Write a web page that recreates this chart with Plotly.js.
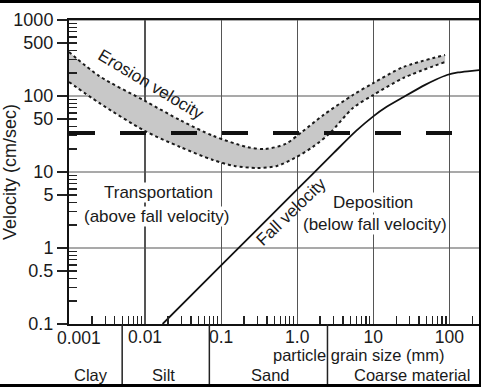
<!DOCTYPE html>
<html><head><meta charset="utf-8">
<script src="https://cdn.plot.ly/plotly-3.0.1.min.js"></script>
<style>
html,body{margin:0;padding:0;background:#fff;}
#wrap{position:relative;width:481px;height:387px;overflow:hidden;}
#chart{width:481px;height:387px;}
#frame{position:absolute;left:0;top:0;width:481px;height:387px;box-sizing:border-box;border-top:3px solid #000;border-right:2px solid #000;border-bottom:3px solid #000;pointer-events:none;}
</style></head><body>
<div id="wrap"><div id="chart"></div><div id="frame"></div></div>
<script>
// ---- data (grain size in mm, velocity in cm/sec) ----
const erosionUpperX = [0.001, 0.0025, 0.01, 0.029, 0.078, 0.22, 0.38, 0.7, 1.15, 2.2, 5.4, 10, 25, 88];
const erosionUpperY = [380, 183, 86, 48, 30, 21.3, 20.1, 23.4, 33.6, 56, 103, 148, 241, 346];
const erosionLowerX = [0.001, 0.0025, 0.01, 0.029, 0.078, 0.15, 0.3, 0.54, 0.93, 1.6, 2.7, 5.4, 10, 25, 88];
const erosionLowerY = [153, 81, 34.6, 21.3, 14.4, 12.0, 11.3, 12.0, 15.3, 21.3, 32.6, 69.5, 103, 173, 280];
const fallX = [0.017, 0.1, 1, 3, 6, 10, 15, 25, 48, 67, 93, 130, 186, 251];
const fallY = [0.1, 0.59, 5.9, 17.7, 35, 54, 72, 97, 140, 165, 189, 204, 213, 220];
const thresholdX = [0.001, 110];
const thresholdY = [32.5, 32.5];

const xTickVals = [0.001, 0.01, 0.1, 1, 10, 100];
const xTickText = ['', '0.01', '0.1', '1.0', '10', '100'];
const xFirstLabel = '0.001';
const yTickVals = [0.1, 0.5, 1, 5, 10, 50, 100, 500, 1000];
const yTickText = ['0.1', '0.5', '1', '5', '10', '50', '100', '500', '1000'];
const yGridVals = [1, 10, 100, 1000];
const decadesX = [0.001, 0.01, 0.1, 1, 10, 100];
const decadesY = [0.1, 1, 10, 100];
const minorMult = [2, 3, 4, 5, 6, 7, 8, 9];

const classBounds = [0.005, 0.07, 2.5];
const classNames = ['Clay', 'Silt', 'Sand', 'Coarse material'];
const classLabelX = [0.00195, 0.0177, 0.44, 32];

const font = 'Liberation Sans, Arial, sans-serif';
const ink = '#1a1a1a';

const minorX = [];
decadesX.forEach(d => minorMult.forEach(m => minorX.push(d * m)));
const minorY = [];
decadesY.forEach(d => minorMult.forEach(m => minorY.push(d * m)));

const traces = [
  {x: erosionLowerX, y: erosionLowerY, mode: 'lines', line: {color: ink, width: 2, dash: 'dot', shape: 'spline', smoothing: 0.8}, hoverinfo: 'skip', showlegend: false},
  {x: erosionUpperX, y: erosionUpperY, mode: 'lines', fill: 'tonexty', fillcolor: '#c8c8c8', line: {color: ink, width: 2, dash: 'dot', shape: 'spline', smoothing: 0.8}, hoverinfo: 'skip', showlegend: false},
  {x: thresholdX, y: thresholdY, mode: 'lines', line: {color: '#111', width: 4, dash: '26px,25px'}, hoverinfo: 'skip', showlegend: false},
  {x: fallX, y: fallY, mode: 'lines', line: {color: '#111', width: 1.8, shape: 'spline', smoothing: 0.8}, hoverinfo: 'skip', showlegend: false}
];

const shapes = [];
yGridVals.forEach(v => shapes.push({type: 'line', xref: 'paper', yref: 'y', x0: 0, x1: 1, y0: v, y1: v, line: {color: '#555', width: 1.2}, layer: 'below'}));
classBounds.forEach(v => shapes.push({type: 'line', xref: 'x', yref: 'paper', x0: v, x1: v, y0: 0, y1: -0.2, line: {color: '#222', width: 1.5}}));

const L = Math.log10;
const base = {xref: 'x', yref: 'y', showarrow: false, xanchor: 'center', yanchor: 'middle', borderpad: 0, font: {family: font, size: 17, color: ink}};
const annotations = [
  {text: 'Erosion velocity', x: L(0.0118), y: L(140), textangle: 31},
  {text: 'Fall velocity', x: L(0.85), y: L(2.98), textangle: -44},
  {text: 'Transportation', x: L(0.0148), y: L(5.3), bgcolor: '#fff'},
  {text: '(above fall velocity)', x: L(0.0144), y: L(2.56), bgcolor: '#fff'},
  {text: 'Deposition', x: L(9.9), y: L(3.91), bgcolor: '#fff'},
  {text: '(below fall velocity)', x: L(10.5), y: L(2.01), bgcolor: '#fff'},
  {text: 'particle grain size (mm)', x: L(6.3), y: -0.102, yref: 'paper', font: {family: font, size: 16.5, color: ink}},
  {text: xFirstLabel, x: L(0.00136), y: -0.046, yref: 'paper', font: {family: font, size: 17.5, color: ink}}
].map(a => Object.assign({}, base, a));
classNames.forEach((n, i) => annotations.push(Object.assign({}, base, {text: n, x: L(classLabelX[i]), y: -0.168, yref: 'paper', font: {family: font, size: 16.5, color: ink}})));

const layout = {
  width: 481, height: 387,
  margin: {l: 69, r: 2, t: 20, b: 63},
  paper_bgcolor: '#fff', plot_bgcolor: '#fff',
  font: {family: font, color: ink},
  showlegend: false,
  xaxis: {
    type: 'log', range: [-3, 2.39],
    tickmode: 'array', tickvals: xTickVals, ticktext: xTickText,
    ticks: '', ticklabelstandoff: -4, tickfont: {family: font, size: 17.5, color: ink},
    showgrid: true, gridcolor: '#555', gridwidth: 1.2,
    showline: true, linecolor: '#111', linewidth: 2, mirror: true,
    zeroline: false,
    minor: {tickmode: 'array', tickvals: minorX, ticks: 'inside', ticklen: 8, tickwidth: 1.3, tickcolor: '#222', showgrid: false}
  },
  yaxis: {
    type: 'log', range: [-1, 3],
    tickmode: 'array', tickvals: yTickVals, ticktext: yTickText,
    ticks: 'outside', ticklen: 10, tickwidth: 1.5, tickcolor: '#222',
    tickfont: {family: font, size: 18, color: ink},
    showgrid: false,
    showline: true, linecolor: '#111', linewidth: 2,
    zeroline: false,
    title: {text: 'Velocity (cm/sec)', font: {family: font, size: 18, color: ink}, standoff: 0},
    minor: {tickmode: 'array', tickvals: minorY, ticks: 'inside', ticklen: 8, tickwidth: 1.3, tickcolor: '#222', showgrid: false}
  },
  shapes: shapes,
  annotations: annotations
};

Plotly.newPlot('chart', traces, layout, {staticPlot: true, displayModeBar: false});
</script>
</body></html>
